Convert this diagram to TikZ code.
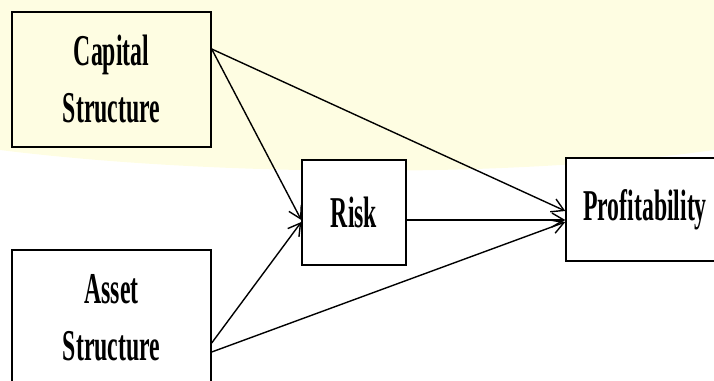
\documentclass[tikz,border=0pt]{standalone}
\usepackage{fontspec}
\newfontfamily\boxfont{Liberation Serif}[FakeStretch=0.54]
\usetikzlibrary{arrows.meta}
\definecolor{paleyellow}{RGB}{254,253,226}

\begin{document}
\begin{tikzpicture}[x=1pt, y=-1pt, line width=1.4pt,
  box/.style={draw, align=center, font=\boxfont\bfseries\fontsize{44}{57}\selectfont},
  arr/.style={-{Straight Barb[length=12pt,width=14pt]}}]
\useasboundingbox (0,0) rectangle (714,380);
\clip (0,0) rectangle (714,380);
\fill[paleyellow] (0,0) -- (714,0) -- (714,150) .. controls (500,180) and (200,175) .. (0,150) -- cycle;
\node[box, fill=paleyellow, minimum width=199pt, minimum height=135pt](cap) at(111.5,79.5){Capital\\Structure};
\node[box, fill=white, minimum width=199pt, minimum height=136pt](asset) at(111.5,318){Asset\\Structure};
\node[box, fill=white, minimum width=104pt, minimum height=105pt](risk) at(354,212.5){Risk};
\node[box, fill=white, minimum width=158pt, minimum height=103pt](prof) at(645,209.5){Profitability};
\draw[arr]([yshift=30.5pt]cap.east)--([yshift=-7.5pt]risk.west);
\draw[arr]([yshift=-25pt]asset.east)--([yshift=-9.5pt]risk.west);
\draw[arr]([yshift=30.5pt]cap.east)--([yshift=-1.5pt]prof.west);
\draw[arr]([yshift=-7.5pt]risk.east)--([yshift=-10.5pt]prof.west);
\draw[arr]([yshift=-34pt]asset.east)--([yshift=-12.5pt]prof.west);
\end{tikzpicture}
\end{document}
